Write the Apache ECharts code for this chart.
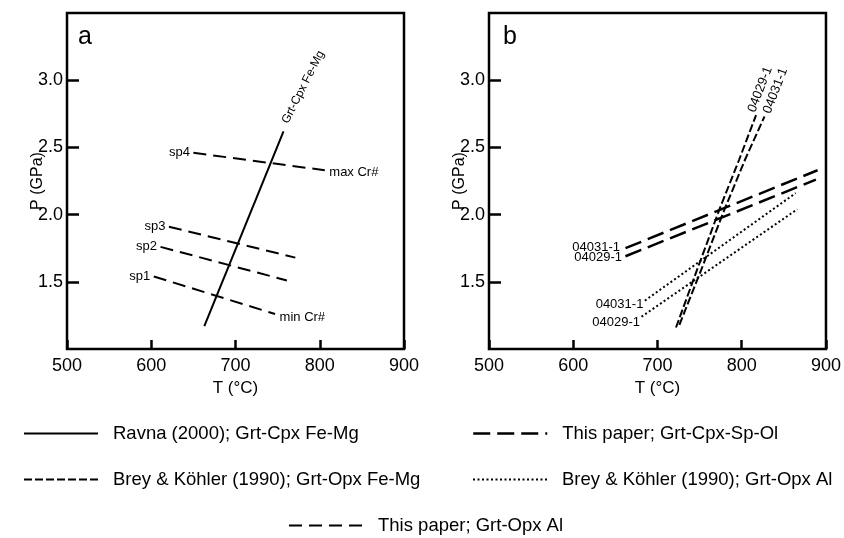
<!DOCTYPE html>
<html>
<head>
<meta charset="utf-8">
<script src="https://cdn.jsdelivr.net/npm/echarts@6/dist/echarts.min.js"></script>
<style>
  html, body { margin: 0; padding: 0; background: #fff; }
  #chart { width: 844px; height: 538px; }
</style>
</head>
<body>
<div id="chart"></div>
<script>
// axis range, T in °C and P in GPa
const tRange = [500, 900];
const pRange = [1.0, 3.5];

// panel a
const aRavna = [[663, 1.17], [757, 2.62]];
const aSp1 = [[603, 1.54], [747, 1.26]];
const aSp2 = [[611, 1.76], [761, 1.51]];
const aSp3 = [[621, 1.91], [771, 1.68]];
const aSp4 = [[650, 2.46], [806, 2.33]];
const aSpNames = ['sp1', 'sp2', 'sp3', 'sp4'];

// panel b
const bSpOl04031 = [[662, 1.75], [890, 2.33]];
const bSpOl04029 = [[662, 1.69], [888, 2.26]];
const bOpxAl04031 = [[685, 1.36], [864, 2.16]];
const bOpxAl04029 = [[681, 1.24], [866, 2.04]];
const bFeMg04029 = [[722, 1.16], [747, 1.59], [773, 2.03], [797, 2.41], [817, 2.74]];
const bFeMg04031 = [[726, 1.18], [752, 1.59], [779, 2.03], [804, 2.41], [827, 2.73]];

const legendNames = [
  'Ravna (2000); Grt-Cpx Fe-Mg',
  'Brey & Köhler (1990); Grt-Opx Fe-Mg',
  'This paper; Grt-Opx Al',
  'This paper; Grt-Cpx-Sp-Ol',
  'Brey & Köhler (1990); Grt-Opx Al'
];

const FONT = "'Liberation Sans', Arial, sans-serif";

// line look for each method
const styles = {};
styles[legendNames[0]] = { width: 2, type: 'solid' };
styles[legendNames[1]] = { width: 2, type: [8, 3] };
styles[legendNames[2]] = { width: 2, type: [13, 7] };
styles[legendNames[3]] = { width: 2.5, type: [17, 7] };
styles[legendNames[4]] = { width: 2, type: [2, 2.5] };

function line(name, data, idx) {
  return {
    type: 'line', name: name, data: data,
    xAxisIndex: idx, yAxisIndex: idx,
    symbol: 'none', silent: true,
    lineStyle: { color: '#000', width: styles[name].width, type: styles[name].type }
  };
}

function lbl(pt, text, opt) {
  return {
    value: pt,
    label: Object.assign({
      show: true, formatter: text, color: '#000', opacity: 1,
      textBorderWidth: 0, fontSize: 13, fontFamily: FONT
    }, opt)
  };
}

const aLabels = [
  lbl(aRavna[1], 'Grt-Cpx Fe-Mg', { fontSize: 12, rotate: 63, position: [2, -8], align: 'left', verticalAlign: 'middle' }),
  lbl(aSp1[0], aSpNames[0], { position: 'left', distance: 3 }),
  lbl(aSp2[0], aSpNames[1], { position: 'left', distance: 3 }),
  lbl(aSp3[0], aSpNames[2], { position: 'left', distance: 3 }),
  lbl(aSp4[0], aSpNames[3], { position: 'left', distance: 3 }),
  lbl(aSp1[1], 'min Cr#', { position: 'right', distance: 4, offset: [0, 3] }),
  lbl(aSp4[1], 'max Cr#', { position: 'right', distance: 4, offset: [0, 2] })
];

const bLabels = [
  lbl(bSpOl04031[0], '04031-1', { position: 'left', distance: 5, offset: [0, -1] }),
  lbl(bSpOl04029[0], '04029-1', { position: 'left', distance: 3, offset: [0, 1] }),
  lbl(bOpxAl04031[0], '04031-1', { position: 'left', distance: 1, offset: [0, 4] }),
  lbl(bOpxAl04029[0], '04029-1', { position: 'left', distance: 1, offset: [0, 6] }),
  lbl(bFeMg04029[bFeMg04029.length - 1], '04029-1', { rotate: 69, position: [-4, -3], align: 'left', verticalAlign: 'middle' }),
  lbl(bFeMg04031[bFeMg04031.length - 1], '04031-1', { rotate: 69, position: [3, -3], align: 'left', verticalAlign: 'middle' })
];

function labelSeries(data, idx) {
  return {
    type: 'scatter', data: data, xAxisIndex: idx, yAxisIndex: idx,
    symbolSize: 1, itemStyle: { color: '#fff', opacity: 0 }, silent: true, z: 5
  };
}

const grids = [
  { left: 67, top: 13, width: 337, height: 336 },
  { left: 489, top: 13, width: 338, height: 336 }
].map(g => Object.assign(g, { show: true, borderColor: '#000', borderWidth: 2.5, containLabel: false }));

function xAx(idx) {
  return {
    type: 'value', gridIndex: idx, min: tRange[0], max: tRange[1], interval: 100,
    name: 'T (°C)', nameLocation: 'middle', nameGap: 31, nameMoveOverlap: false,
    nameTextStyle: { fontSize: 17, color: '#000', fontFamily: FONT },
    axisLine: { show: false },
    axisTick: { inside: true, length: 9, lineStyle: { color: '#000', width: 2.5 } },
    axisLabel: { fontSize: 18, color: '#000', margin: 8, fontFamily: FONT },
    splitLine: { show: false }
  };
}

function yAx(idx) {
  return {
    type: 'value', gridIndex: idx, min: pRange[0], max: pRange[1], interval: 0.5,
    name: 'P (GPa)', nameLocation: 'middle', nameGap: 21, nameMoveOverlap: false,
    nameTextStyle: { fontSize: 16, color: '#000', fontFamily: FONT },
    axisLine: { show: false },
    axisTick: { inside: true, length: 12, lineStyle: { color: '#000', width: 2.5 } },
    axisLabel: {
      fontSize: 18, color: '#000', margin: 4, fontFamily: FONT,
      showMinLabel: false, showMaxLabel: false,
      formatter: v => v.toFixed(1)
    },
    splitLine: { show: false }
  };
}

function legend(name, left, top) {
  return {
    data: [name], left: left, top: top, padding: 0,
    itemWidth: 74, itemHeight: 14, selectedMode: false,
    itemStyle: { opacity: 0 },
    lineStyle: { opacity: 1, width: styles[name].width },
    textStyle: { fontSize: 18.5, color: '#000', fontFamily: FONT, padding: [0, 0, 0, 10] }
  };
}

const chart = echarts.init(document.getElementById('chart'));
chart.setOption({
  animation: false,
  backgroundColor: '#fff',
  textStyle: { fontFamily: FONT },
  title: [
    { text: 'a', left: 78, top: 25, padding: 0, textStyle: { fontSize: 25, fontWeight: 'normal', color: '#000', fontFamily: FONT } },
    { text: 'b', left: 503, top: 25, padding: 0, textStyle: { fontSize: 25, fontWeight: 'normal', color: '#000', fontFamily: FONT } }
  ],
  legend: [
    legend(legendNames[0], 23, 424),
    legend(legendNames[1], 23, 470),
    legend(legendNames[2], 288, 516),
    legend(legendNames[3], 472, 424),
    legend(legendNames[4], 472, 470)
  ],
  grid: grids,
  xAxis: [xAx(0), xAx(1)],
  yAxis: [yAx(0), yAx(1)],
  series: [
    line(legendNames[0], aRavna, 0),
    line(legendNames[2], aSp1, 0),
    line(legendNames[2], aSp2, 0),
    line(legendNames[2], aSp3, 0),
    line(legendNames[2], aSp4, 0),
    labelSeries(aLabels, 0),
    line(legendNames[3], bSpOl04031, 1),
    line(legendNames[3], bSpOl04029, 1),
    line(legendNames[4], bOpxAl04031, 1),
    line(legendNames[4], bOpxAl04029, 1),
    line(legendNames[1], bFeMg04029, 1),
    line(legendNames[1], bFeMg04031, 1),
    labelSeries(bLabels, 1)
  ]
});
</script>
</body>
</html>
